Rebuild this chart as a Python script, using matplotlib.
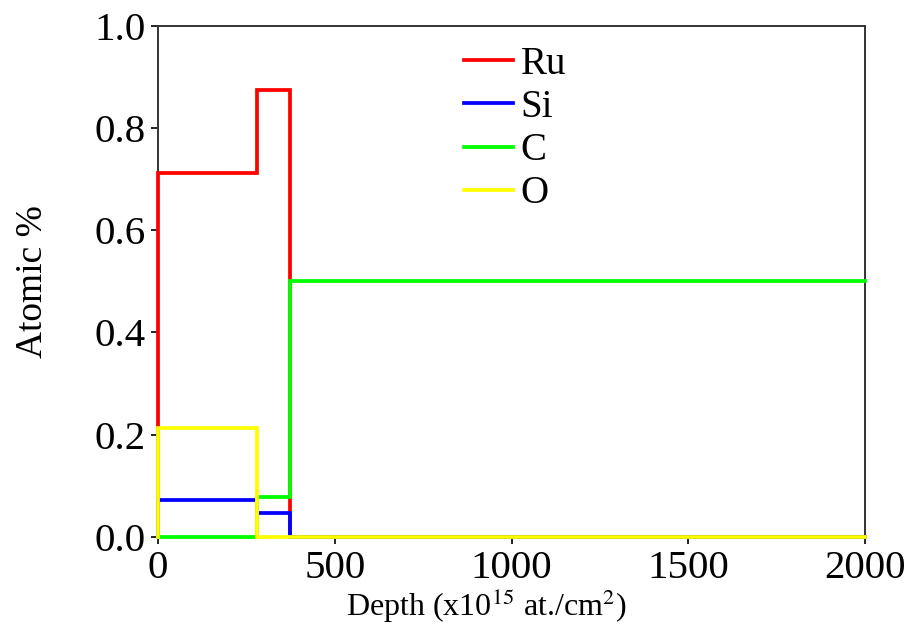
import matplotlib
matplotlib.use("Agg")
import matplotlib.pyplot as plt

# Layer boundaries (depth, x10^15 at./cm^2) and atomic fractions per layer
depth = [0, 0, 280, 372, 2000]
ru = [0.0, 0.711, 0.874, 0.0, 0.0]
si = [0.0, 0.072, 0.046, 0.0, 0.0]
c = [0.0, 0.0, 0.079, 0.500, 0.500]
o = [0.0, 0.213, 0.0, 0.0, 0.0]

series = [("Ru", ru, "#ff0000"), ("Si", si, "#0000ff"),
          ("C", c, "#00ff00"), ("O", o, "#ffff00")]

plt.rcParams["font.family"] = ["Liberation Serif", "DejaVu Serif"]
plt.rcParams["mathtext.fontset"] = "stix"

fig = plt.figure(figsize=(9.15, 6.39), dpi=100)
ax = fig.add_axes([0.1727, 0.1596, 0.9454 - 0.1727, 0.960 - 0.1596])

for name, vals, col in series:
    ax.plot(depth, vals, drawstyle="steps-post", color=col, lw=2.7,
            label=name, solid_joinstyle="miter", clip_on=False, zorder=3)

ax.set_xlim(0, 2000)
ax.set_ylim(0, 1.0)
ax.set_xticks([0, 500, 1000, 1500, 2000])
ax.set_yticks([0.0, 0.2, 0.4, 0.6, 0.8, 1.0])
ax.set_yticklabels(["0.0", "0.2", "0.4", "0.6", "0.8", "1.0"])
ax.tick_params(axis="both", direction="out", length=5, width=1.2,
               labelsize=29.5, pad=4)
for sp in ax.spines.values():
    sp.set_linewidth(1.4)
    sp.set_color("#333333")

ax.set_ylabel("Atomic %", fontsize=27, labelpad=32)
ax.set_xlabel(r"Depth (x10$^{15}$ at./cm$^{2}$)", fontsize=23)
ax.xaxis.set_label_coords(0.464, -0.097)

leg = ax.legend(loc="upper left", bbox_to_anchor=(0.482, 0.965),
                bbox_transform=fig.transFigure, frameon=False,
                fontsize=28, handlelength=1.25, handletextpad=0.2,
                labelspacing=0.16, borderpad=0.1)

fig.savefig("out.png", dpi=100)
